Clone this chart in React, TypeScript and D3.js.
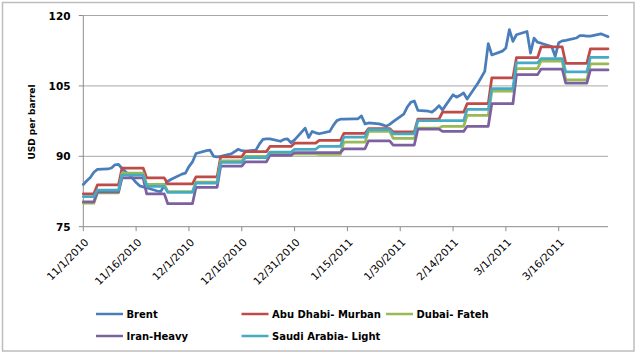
import React from "react";
import * as d3 from "d3";

// ---- data ----
const tradingDates: string[] = [
  "11/1/2010","11/2/2010","11/3/2010","11/4/2010","11/5/2010",
  "11/8/2010","11/9/2010","11/10/2010","11/11/2010","11/12/2010",
  "11/15/2010","11/16/2010","11/17/2010","11/18/2010","11/19/2010",
  "11/22/2010","11/23/2010","11/24/2010","11/25/2010","11/26/2010",
  "11/29/2010","11/30/2010",
  "12/1/2010","12/2/2010","12/3/2010",
  "12/6/2010","12/7/2010","12/8/2010","12/9/2010","12/10/2010",
  "12/13/2010","12/14/2010","12/15/2010","12/16/2010","12/17/2010",
  "12/20/2010","12/21/2010","12/22/2010","12/23/2010","12/24/2010",
  "12/27/2010","12/28/2010","12/29/2010","12/30/2010","12/31/2010",
  "1/3/2011","1/4/2011","1/5/2011","1/6/2011","1/7/2011",
  "1/10/2011","1/11/2011","1/12/2011","1/13/2011","1/14/2011",
  "1/17/2011","1/18/2011","1/19/2011","1/20/2011","1/21/2011",
  "1/24/2011","1/25/2011","1/26/2011","1/27/2011","1/28/2011",
  "1/31/2011",
  "2/1/2011","2/2/2011","2/3/2011","2/4/2011",
  "2/7/2011","2/8/2011","2/9/2011","2/10/2011","2/11/2011",
  "2/14/2011","2/15/2011","2/16/2011","2/17/2011","2/18/2011",
  "2/21/2011","2/22/2011","2/23/2011","2/24/2011","2/25/2011",
  "2/28/2011",
  "3/1/2011","3/2/2011","3/3/2011","3/4/2011",
  "3/7/2011","3/8/2011","3/9/2011","3/10/2011","3/11/2011",
  "3/14/2011","3/15/2011","3/16/2011","3/17/2011","3/18/2011",
  "3/21/2011","3/22/2011","3/23/2011","3/24/2011","3/25/2011",
  "3/28/2011","3/29/2011","3/30/2011",
];

const brent: number[] = [
  84.0, 84.8, 85.5, 86.6, 87.2,
  87.3, 87.5, 88.2, 88.3, 87.4,
  85.3, 84.4, 83.7, 83.5, 83.3,
  82.6, 82.5, 83.8, 84.7, 85.1,
  86.2, 86.4,
  87.8, 88.8, 90.6,
  91.2, 91.3, 90.0, 89.9, 90.0,
  90.5, 91.0, 91.5, 91.2, 91.1,
  91.3, 92.6, 93.6, 93.7, 93.7,
  93.2, 93.6, 93.7, 92.9, 93.5,
  96.0, 94.0, 95.3, 95.0, 94.8,
  95.3, 96.6, 97.6, 97.9, 97.9,
  98.0, 98.0, 98.6, 96.9, 97.1,
  96.9, 96.7, 96.4, 96.8, 97.4,
  99.0,
  100.5, 101.5, 101.8, 99.8,
  99.6, 99.4, 100.0, 100.8, 99.9,
  103.1, 102.6, 103.0, 103.5, 102.2,
  105.5, 106.8, 108.1, 114.0, 111.6,
  112.4,
  113.1, 117.0, 114.5, 115.9,
  116.6, 112.0, 115.2, 114.3, 114.1,
  113.4, 111.3, 114.2, 114.6, 114.7,
  115.2, 115.7, 115.7, 115.6, 115.6,
  116.1, 115.8, 115.5,
];

// Gulf prices change once a week; each value holds from its start date
// until the trading day before the next start date.
const weekStarts: string[] = [
  "11/1/2010","11/5/2010","11/12/2010","11/19/2010","11/25/2010",
  "12/3/2010","12/10/2010","12/17/2010","12/24/2010","12/31/2010",
  "1/7/2011","1/14/2011","1/21/2011","1/28/2011","2/4/2011",
  "2/11/2011","2/18/2011","2/25/2011","3/4/2011","3/11/2011",
  "3/18/2011","3/25/2011",
];

const abuDhabiMurban: number[] = [
  82.0, 83.9, 87.5, 85.4, 84.1, 85.6, 89.9, 91.0, 92.1, 92.8,
  93.4, 94.9, 95.9, 95.2, 97.9, 99.4, 101.2, 106.7, 111.0, 113.3,
  109.8, 112.9,
];
const dubaiFateh: number[] = [
  80.0, 82.2, 86.4, 84.0, 82.5, 84.5, 89.0, 90.0, 90.5, 90.5,
  90.4, 93.0, 95.3, 93.8, 96.0, 96.4, 98.7, 103.9, 108.7, 110.3,
  106.3, 109.7,
];
const iranHeavy: number[] = [
  80.3, 82.4, 85.4, 82.0, 79.9, 83.4, 87.9, 88.8, 90.2, 90.8,
  90.8, 91.6, 93.3, 92.4, 95.8, 95.3, 96.4, 101.2, 107.4, 108.6,
  105.6, 108.4,
];
const saudiArabiaLight: number[] = [
  81.4, 82.8, 86.0, 83.6, 82.3, 84.3, 88.7, 89.7, 90.9, 91.5,
  92.1, 94.1, 95.7, 94.8, 97.6, 97.6, 100.0, 104.4, 109.9, 110.8,
  108.0, 111.1,
];

const seriesNames: string[] = [
  "Brent",
  "Abu Dhabi- Murban",
  "Dubai- Fateh",
  "Iran-Heavy",
  "Saudi Arabia- Light",
];
const seriesColors: string[] = ["#4A7EBB", "#BE4B48", "#98B954", "#7D60A0", "#46AAC5"];

const yTicks: number[] = [75, 90, 105, 120];
const xTickLabels: string[] = [
  "11/1/2010","11/16/2010","12/1/2010","12/16/2010","12/31/2010",
  "1/15/2011","1/30/2011","2/14/2011","3/1/2011","3/16/2011",
];
const yTitle = "USD per barrel";

// ---- layout ----
const W = 638;
const H = 357;
const plotLeft = 83.3;
const plotRight = 608;
const plotTop = 15.5;
const plotBottom = 226.7;

const parse = d3.utcParse("%m/%d/%Y");

export default function App() {
  const dates = tradingDates.map((s) => parse(s) as Date);
  const x = d3
    .scaleUtc()
    .domain([dates[0], dates[dates.length - 1]])
    .range([plotLeft, plotRight]);
  const y = d3.scaleLinear().domain([75, 120]).range([plotBottom, plotTop]);

  const line = d3
    .line<[Date, number]>()
    .x((d) => x(d[0]))
    .y((d) => y(d[1]));

  const brentPts: [Date, number][] = dates.map((d, i) => [d, brent[i]]);

  const starts = weekStarts.map((s) => parse(s) as Date);
  const startIdx = starts.map((s) => dates.findIndex((d) => +d === +s));
  const weeklyPts = (vals: number[]): [Date, number][] => {
    const pts: [Date, number][] = [];
    vals.forEach((v, i) => {
      const a = startIdx[i];
      const b = i + 1 < startIdx.length ? startIdx[i + 1] - 1 : dates.length - 1;
      pts.push([dates[a], v]);
      if (b > a) pts.push([dates[b], v]);
    });
    return pts;
  };

  const series: [Date, number][][] = [
    brentPts,
    weeklyPts(abuDhabiMurban),
    weeklyPts(dubaiFateh),
    weeklyPts(iranHeavy),
    weeklyPts(saudiArabiaLight),
  ];

  const xTicks = xTickLabels.map((s) => parse(s) as Date);

  const legendCols = [96, 241.5, 386];
  const legendRows = [314, 336];
  const legendPos = [
    [0, 0],
    [1, 0],
    [2, 0],
    [0, 1],
    [1, 1],
  ];

  const font = "'DejaVu Sans', Verdana, sans-serif";

  return (
    <svg
      width={W}
      height={H}
      viewBox={`0 0 ${W} ${H}`}
      style={{ position: "absolute", left: 0, top: 0, background: "#fff" }}
      fontFamily={font}
    >
      <rect x={0} y={0} width={W} height={H} fill="#fff" />
      <rect x={2.5} y={2.5} width={631.5} height={348.5} fill="none" stroke="#BDBDBD" strokeWidth={1.5} />

      {/* gridlines */}
      {yTicks
        .filter((t) => t !== 75)
        .map((t) => (
          <line key={"g" + t} x1={plotLeft} x2={plotRight} y1={y(t)} y2={y(t)} stroke="#A8A8A8" strokeWidth={1} />
        ))}

      {/* axes */}
      <line x1={plotLeft} x2={plotLeft} y1={plotTop} y2={plotBottom} stroke="#8C8C8C" strokeWidth={1} />
      <line x1={plotLeft} x2={plotRight} y1={plotBottom} y2={plotBottom} stroke="#8C8C8C" strokeWidth={1} />
      {yTicks.map((t) => (
        <line key={"yt" + t} x1={plotLeft - 4.5} x2={plotLeft} y1={y(t)} y2={y(t)} stroke="#8C8C8C" strokeWidth={1} />
      ))}
      {xTicks.map((t, i) => (
        <line key={"xt" + i} x1={x(t)} x2={x(t)} y1={plotBottom} y2={plotBottom + 4.5} stroke="#8C8C8C" strokeWidth={1} />
      ))}

      {/* y tick labels */}
      {yTicks.map((t) => (
        <text
          key={"yl" + t}
          x={70.5}
          y={y(t) + 4}
          textAnchor="end"
          fontSize={10.5}
          fontWeight="bold"
          fill="#000"
        >
          {t}
        </text>
      ))}

      {/* y title */}
      <text
        transform={`translate(35, 122) rotate(-90)`}
        textAnchor="middle"
        fontSize={9}
        fontWeight="bold"
        fill="#000"
      >
        {yTitle}
      </text>

      {/* x tick labels */}
      {xTicks.map((t, i) => (
        <text
          key={"xl" + i}
          transform={`translate(${x(t) + 6}, 243) rotate(-45)`}
          textAnchor="end"
          fontSize={10.5}
          fill="#000"
        >
          {xTickLabels[i]}
        </text>
      ))}

      {/* series */}
      {series.map((pts, i) => (
        <path
          key={"s" + i}
          d={line(pts) || ""}
          fill="none"
          stroke={seriesColors[i]}
          strokeWidth={2.75}
          strokeLinejoin="round"
          strokeLinecap="round"
        />
      ))}

      {/* legend */}
      {seriesNames.map((name, i) => {
        const lx = legendCols[legendPos[i][0]];
        const ly = legendRows[legendPos[i][1]];
        return (
          <g key={"lg" + i}>
            <line x1={lx} x2={lx + 27} y1={ly} y2={ly} stroke={seriesColors[i]} strokeWidth={2.5} />
            <text x={lx + 30.5} y={ly + 3.6} fontSize={10} fontWeight="bold" fill="#000">
              {name}
            </text>
          </g>
        );
      })}
    </svg>
  );
}
